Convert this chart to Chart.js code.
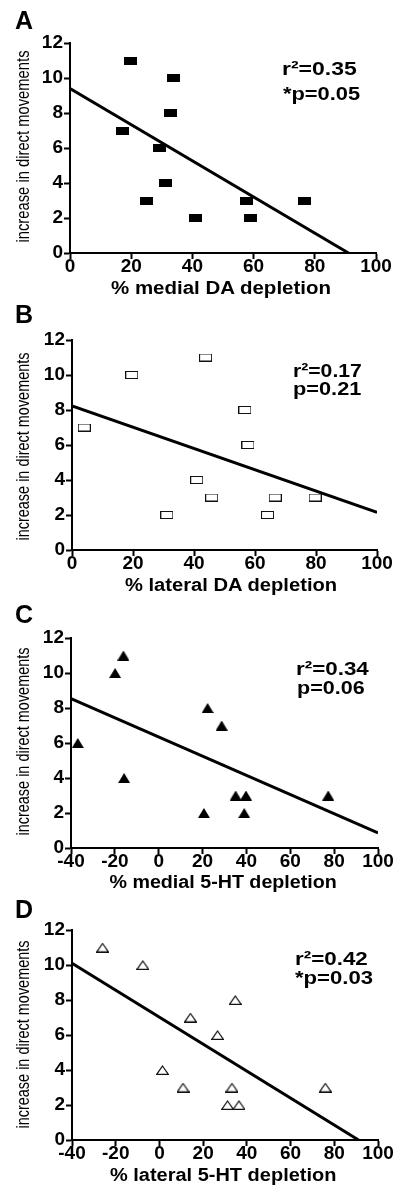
<!DOCTYPE html>
<html>
<head>
<meta charset="utf-8">
<script src="https://cdn.jsdelivr.net/npm/chart.js@4.4.1/dist/chart.umd.min.js"></script>
<style>
  html, body { margin: 0; padding: 0; background: #fff; }
  #page { position: relative; width: 397px; height: 1188px; overflow: hidden;
          font-family: "Liberation Sans", Arial, sans-serif; color: #000; }
  #page canvas { position: absolute; left: 0; }
  .txt { position: absolute; white-space: nowrap; line-height: 1; }
</style>
</head>
<body>
<div id="page"></div>
<script>
// A: medial DA
const medialDaX = [19.8, 33.7, 32.8, 17, 29.3, 31.3, 25, 40.9, 57.7, 59, 76.6];
const medialDaY = [11, 10, 8, 7, 6, 4, 3, 2, 3, 2, 3];
const medialDaFitX = [0, 91];
const medialDaFitY = [9.4, 0];

// B: lateral DA
const lateralDaX = [4, 19.6, 43.8, 56.7, 57.7, 40.9, 45.8, 31.1, 64.1, 66.6, 79.7];
const lateralDaY = [7, 10, 11, 8, 6, 4, 3, 2, 2, 3, 3];
const lateralDaFitX = [0, 100];
const lateralDaFitY = [8.23, 2.15];

// C: medial 5-HT
const medial5htX = [-36.9, -19.9, -16.1, -15.8, 20.6, 22.3, 28.7, 35.1, 39.8, 39.0, 77.3];
const medial5htY = [6, 10, 11, 4, 2, 8, 7, 3, 3, 2, 3];
const medial5htFitX = [-40, 100];
const medial5htFitY = [8.53, 0.86];

// D: lateral 5-HT
const lateral5htX = [-26, -7.6, 1.4, 10.8, 14.2, 26.6, 34.7, 33.2, 31.2, 36.4, 75.9];
const lateral5htY = [11, 10, 4, 3, 7, 6, 8, 3, 2, 2, 3];
const lateral5htFitX = [-40, 91.1];
const lateral5htFitY = [10.1, 0];

const panelLetters = ["A", "B", "C", "D"];
const xTitles = ["% medial DA depletion", "% lateral DA depletion",
                 "% medial 5-HT depletion", "% lateral 5-HT depletion"];
const yTitle = "increase in direct movements";
const r2Labels = ["r\u00b2=0.35", "r\u00b2=0.17", "r\u00b2=0.34", "r\u00b2=0.42"];
const pLabels = ["*p=0.05", "p=0.21", "p=0.06", "*p=0.03"];
const xMins = [0, 0, -40, -40];
const xMax = 100, xStep = 20;
const yMin = 0, yMax = 12, yStep = 2;

const page = document.getElementById("page");
const FONT = '"Liberation Sans", Arial, sans-serif';

// marker images
function marker(w, h, draw) {
  const c = document.createElement("canvas");
  c.width = w; c.height = h;
  draw(c.getContext("2d"), w, h);
  return c;
}
const rectFilled = marker(13, 8, (g, w, h) => { g.fillStyle = "#000"; g.fillRect(0, 0, w, h); });
const rectOpen = marker(13, 8, (g, w, h) => {
  g.fillStyle = "#fff"; g.fillRect(0, 0, w, h);
  g.strokeStyle = "#111"; g.lineWidth = 1; g.strokeRect(0.5, 0.5, w - 1, h - 1);
});
const triFilled = marker(12, 10, (g, w, h) => {
  g.fillStyle = "#000"; g.beginPath(); g.moveTo(w / 2, 0); g.lineTo(w, h); g.lineTo(0, h); g.closePath(); g.fill();
});
const triOpen = marker(13, 10, (g, w, h) => {
  g.fillStyle = "#fff"; g.strokeStyle = "#111"; g.lineWidth = 1.2;
  g.beginPath(); g.moveTo(w / 2, 1); g.lineTo(w - 0.7, h - 0.7); g.lineTo(0.7, h - 0.7); g.closePath();
  g.fill(); g.stroke();
});

const panels = [
  { x: medialDaX, y: medialDaY, fx: medialDaFitX, fy: medialDaFitY, m: rectFilled, top: 0, left: 70, right: 21 },
  { x: lateralDaX, y: lateralDaY, fx: lateralDaFitX, fy: lateralDaFitY, m: rectOpen, top: 297, left: 72, right: 20 },
  { x: medial5htX, y: medial5htY, fx: medial5htFitX, fy: medial5htFitY, m: triFilled, top: 595, left: 71, right: 19 },
  { x: lateral5htX, y: lateral5htY, fx: lateral5htFitX, fy: lateral5htFitY, m: triOpen, top: 887, left: 72, right: 19 }
];

const pts = (xs, ys) => xs.map((v, i) => ({ x: v, y: ys[i] }));
const tickFont = { family: FONT, size: 19, weight: "bold" };

panels.forEach((p, i) => {
  const canvas = document.createElement("canvas");
  canvas.width = 397; canvas.height = 300;
  canvas.style.top = p.top + "px";
  page.appendChild(canvas);
  new Chart(canvas, {
    type: "scatter",
    data: {
      datasets: [
        { data: pts(p.x, p.y), pointStyle: p.m, pointRadius: 6, pointHoverRadius: 6, order: 0 },
        { data: pts(p.fx, p.fy), showLine: true, borderColor: "#000", borderWidth: 3,
          pointRadius: 0, order: 1 }
      ]
    },
    options: {
      responsive: false,
      animation: false,
      events: [],
      layout: { padding: { top: 43, right: p.right, left: 0, bottom: 0 } },
      plugins: { legend: { display: false }, tooltip: { enabled: false } },
      scales: {
        x: {
          type: "linear", min: xMins[i], max: xMax,
          ticks: { stepSize: xStep, color: "#000", font: tickFont, padding: -4, maxRotation: 0, autoSkip: false },
          grid: { drawOnChartArea: false, tickLength: 6, tickWidth: 2, tickColor: "#000" },
          border: { color: "#000", width: 2 },
          afterFit(s) { s.height = 47; }
        },
        y: {
          type: "linear", min: yMin, max: yMax,
          ticks: { stepSize: yStep, color: "#000", font: tickFont, padding: 1 },
          grid: { drawOnChartArea: false, tickLength: 6, tickWidth: 2, tickColor: "#000" },
          border: { color: "#000", width: 2 },
          afterFit(s) { s.width = p.left; }
        }
      }
    }
  });
});

// overlay text
function addText(str, o) {
  const el = document.createElement("div");
  el.className = "txt";
  el.textContent = str;
  el.style.fontSize = o.size + "px";
  el.style.fontWeight = o.bold ? "bold" : "normal";
  page.appendChild(el);
  const w = el.offsetWidth;
  const sx = o.width ? o.width / w : 1;
  if (o.rotate) {
    el.style.left = (o.cx - w / 2) + "px";
    el.style.top = (o.cy - o.size / 2) + "px";
    el.style.transformOrigin = "50% 50%";
    el.style.transform = "rotate(-90deg) scaleX(" + sx + ")";
  } else if (o.cx != null) {
    el.style.left = (o.cx - w / 2) + "px";
    el.style.top = (o.base - 0.8465 * o.size) + "px";
    el.style.transformOrigin = "50% 0";
    el.style.transform = "scaleX(" + sx + ")";
  } else {
    el.style.left = o.left + "px";
    el.style.top = (o.base - 0.8465 * o.size) + "px";
    el.style.transformOrigin = "0 0";
    el.style.transform = "scaleX(" + sx + ")";
  }
}

const letterBase = [29.3, 323.3, 623.3, 918];
const yTitleCy = [146, 446, 741, 1034];
const yTitleLen = [192, 188, 188, 188];
const xTitleCx = [221, 231, 223, 223];
const xTitleBase = [294.5, 592, 888.7, 1182];
const xTitleW = [220, 212, 227, 226];
const statLeft = [[281.7, 283], [292.7, 293], [296, 296.7], [295, 295]];
const statBase = [[75, 100.5], [377, 395.5], [675.5, 694], [964.8, 983.8]];
const statW = [[75, 77], [69, 68.7], [73, 68], [73, 78]];

panelLetters.forEach((L, i) => {
  addText(L, { left: 15, base: letterBase[i], size: 25, bold: true });
  addText(yTitle, { rotate: true, cx: 29.3 - 0.3465 * 19, cy: yTitleCy[i], size: 19, width: yTitleLen[i] });
  addText(xTitles[i], { cx: xTitleCx[i], base: xTitleBase[i], size: 17.5, bold: true, width: xTitleW[i] });
  addText(r2Labels[i], { left: statLeft[i][0], base: statBase[i][0], size: 19, bold: true, width: statW[i][0] });
  addText(pLabels[i], { left: statLeft[i][1], base: statBase[i][1], size: 19, bold: true, width: statW[i][1] });
});
</script>
</body>
</html>
